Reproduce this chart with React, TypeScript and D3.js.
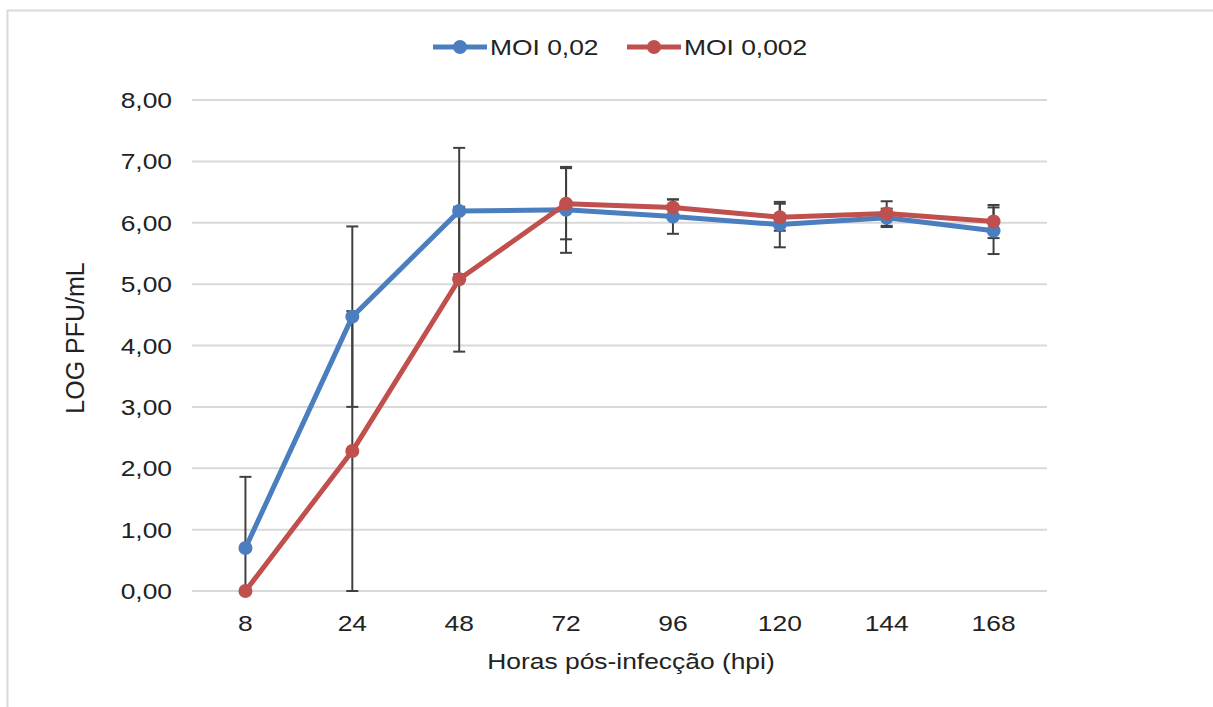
import * as d3 from "d3";
import React, { useRef, useEffect } from "react";

const hours = ["8", "24", "48", "72", "96", "120", "144", "168"];
const moi002 = [0.7, 4.47, 6.19, 6.21, 6.1, 5.97, 6.08, 5.87];
const moi002Err = [1.16, 1.47, 1.03, 0.7, 0.28, 0.37, 0.15, 0.38];
const moi0002 = [0.0, 2.28, 5.08, 6.31, 6.25, 6.09, 6.15, 6.02];
const moi0002Err = [0, 2.28, 1.18, 0.58, 0.13, 0.22, 0.2, 0.27];
const yTicks = [0, 1, 2, 3, 4, 5, 6, 7, 8];
const seriesNames = ["MOI 0,02", "MOI 0,002"];

const BLUE = "#4a7ebf";
const RED = "#c0504d";
const FONT = "'Liberation Sans', Arial, sans-serif";
const STRETCH = 1.2; // reference text is a little wider than plain Arial

const App = () => {
  const svgRef = useRef<SVGSVGElement>(null);

  useEffect(() => {
    const svg = d3.select(svgRef.current);
    svg.selectAll("*").remove();

    const W = 1213;
    const H = 707;
    const plot = { left: 192, right: 1047, top: 100, bottom: 591 };

    svg.attr("width", W).attr("height", H);

    // outer frame (only top/left visible in reference)
    svg
      .append("rect")
      .attr("x", 7.5)
      .attr("y", 10.5)
      .attr("width", W + 20)
      .attr("height", H + 20)
      .attr("fill", "white")
      .attr("stroke", "#d9d9d9")
      .attr("stroke-width", 2);

    const x = d3.scaleBand().domain(hours).range([plot.left, plot.right]);
    const y = d3.scaleLinear().domain([0, 8]).range([plot.bottom, plot.top]);
    const cx = (h: string) => (x(h) as number) + x.bandwidth() / 2;

    // helper for stretched labels
    const label = (
      g: any,
      tx: number,
      ty: number,
      txt: string,
      anchor: string,
      size = 22
    ) =>
      g
        .append("text")
        .attr("transform", `translate(${tx},${ty}) scale(${STRETCH},1)`)
        .attr("text-anchor", anchor)
        .style("font-family", FONT)
        .style("font-size", size + "px")
        .style("fill", "#222")
        .text(txt);

    // gridlines
    svg
      .append("g")
      .selectAll("line")
      .data(yTicks)
      .enter()
      .append("line")
      .attr("x1", plot.left)
      .attr("x2", plot.right)
      .attr("y1", (d) => y(d))
      .attr("y2", (d) => y(d))
      .attr("stroke", "#d9d9d9")
      .attr("stroke-width", 2);

    // y tick labels
    const gy = svg.append("g");
    yTicks.forEach((t) => {
      label(gy, 172, y(t) + 8, d3.format(".2f")(t).replace(".", ","), "end");
    });

    // x tick labels
    const gx = svg.append("g");
    hours.forEach((h) => label(gx, cx(h), 631, h, "middle"));

    // axis titles
    label(svg, 631, 669, "Horas pós-infecção (hpi)", "middle");

    svg
      .append("text")
      .attr("transform", `translate(84,338) rotate(-90)`)
      .attr("text-anchor", "middle")
      .style("font-family", FONT)
      .style("font-size", "25px")
      .style("fill", "#222")
      .text("LOG PFU/mL");

    const series = [
      { name: seriesNames[0], values: moi002, err: moi002Err, color: BLUE },
      { name: seriesNames[1], values: moi0002, err: moi0002Err, color: RED },
    ];

    // error bars (behind lines)
    const clampY = (v: number) => y(Math.max(0, Math.min(8, v)));
    series.forEach((s) => {
      const g = svg.append("g");
      s.values.forEach((v, i) => {
        const e = s.err[i];
        if (!e) return;
        const xx = cx(hours[i]);
        g.append("line")
          .attr("x1", xx)
          .attr("x2", xx)
          .attr("y1", clampY(v + e))
          .attr("y2", clampY(v - e))
          .attr("stroke", "#404040")
          .attr("stroke-width", 2);
        [v + e, v - e].forEach((c) => {
          if (c < 0 || c > 8) return;
          g.append("line")
            .attr("x1", xx - 6)
            .attr("x2", xx + 6)
            .attr("y1", y(c))
            .attr("y2", y(c))
            .attr("stroke", "#404040")
            .attr("stroke-width", 2);
        });
      });
    });

    const line = d3
      .line<number>()
      .x((d, i) => cx(hours[i]))
      .y((d) => y(d));

    series.forEach((s) => {
      svg
        .append("path")
        .datum(s.values)
        .attr("d", line)
        .attr("fill", "none")
        .attr("stroke", s.color)
        .attr("stroke-width", 5)
        .attr("stroke-linejoin", "round");

      svg
        .append("g")
        .selectAll("circle")
        .data(s.values)
        .enter()
        .append("circle")
        .attr("cx", (d, i) => cx(hours[i]))
        .attr("cy", (d) => y(d))
        .attr("r", 7)
        .attr("fill", s.color);
    });

    // legend
    const legendX = [433, 627];
    series.forEach((s, i) => {
      const lg = svg.append("g").attr("transform", `translate(${legendX[i]},47)`);
      lg.append("line")
        .attr("x1", 0)
        .attr("x2", 54)
        .attr("stroke", s.color)
        .attr("stroke-width", 5);
      lg.append("circle").attr("cx", 27).attr("r", 7).attr("fill", s.color);
      label(lg, 57, 8, s.name, "start");
    });
  }, []);

  return (
    <div style={{ position: "absolute", left: 0, top: 0, background: "white" }}>
      <svg ref={svgRef} style={{ display: "block" }}></svg>
    </div>
  );
};

export default App;
